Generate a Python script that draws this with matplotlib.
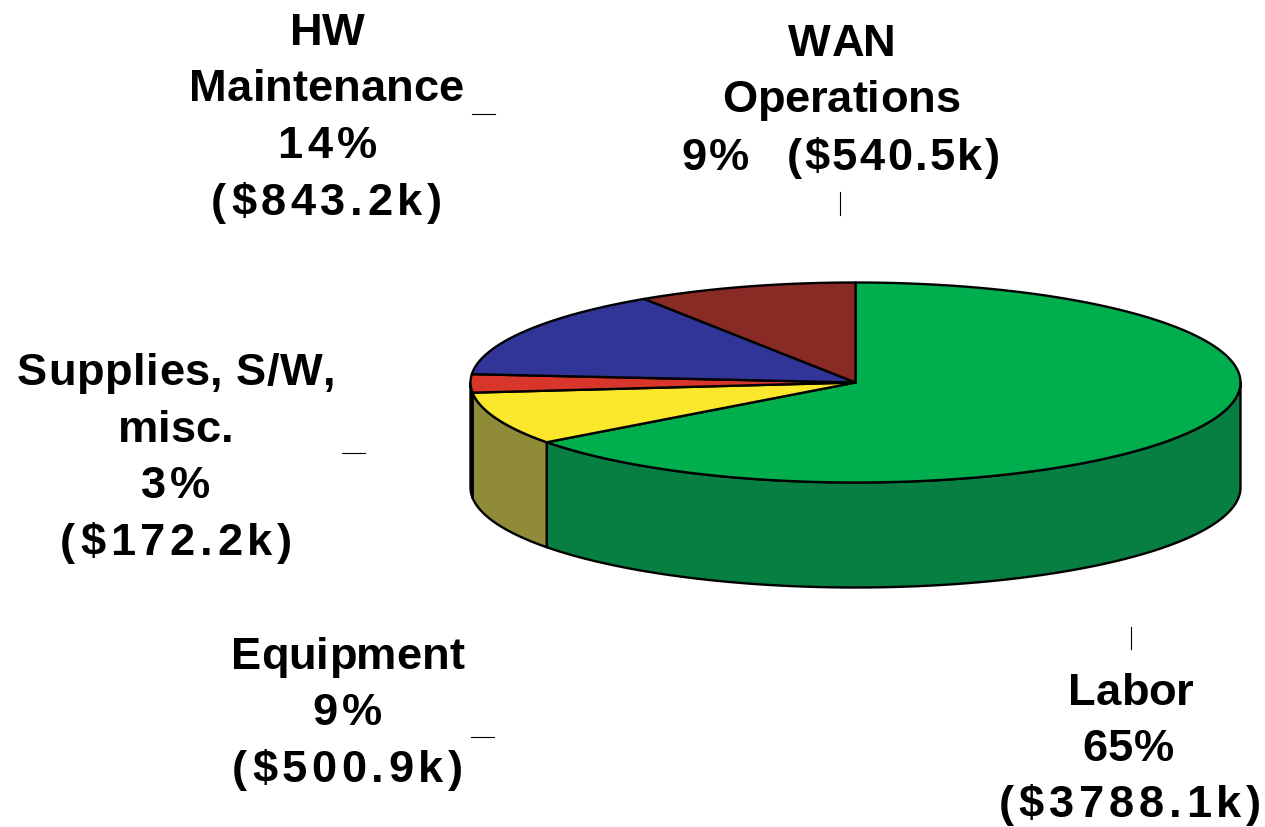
import numpy as np
import matplotlib
matplotlib.use("Agg")
import matplotlib.pyplot as plt
from matplotlib.patches import Polygon
from matplotlib.text import Text
from matplotlib.transforms import Bbox

categories = ["Labor", "Equipment", "Supplies, S/W, misc.", "HW Maintenance", "WAN Operations"]
values = [3788.1, 500.9, 172.2, 843.2, 540.5]
top_colors = ["#00AE4D", "#FBE72B", "#D9362B", "#303597", "#8A2A25"]
side_colors = ["#087F42", "#8F8B38", "#8F8B38", "#303597", "#8A2A25"]
label_lines = [
    ["Labor", "65%", "($3788.1k)"],
    ["Equipment", "9%", "($500.9k)"],
    ["Supplies, S/W,", "misc.", "3%", "($172.2k)"],
    ["HW", "Maintenance", "14%", "($843.2k)"],
    ["WAN", "Operations", "9%   ($540.5k)"],
]
label_x = [[1131, 1128, 1130], [347.5, 347.5, 347.5], [175, 175.5, 175.5, 176],
           [327.5, 326.5, 327, 326.5], [841.5, 841, 840.5]]
label_baselines = [[705, 761, 817], [669, 725, 782], [385, 442, 498, 555],
                   [45, 101, 158, 215], [56, 112, 170]]
label_gaps = [[0, 0.5, 4.9], [0, 4, 4.6], [0.6, 0, 4, 4.7], [0, 0, 4.5, 4.6], [1.2, 0, 2.4]]
ticks = [(1131, 627, 1131, 649), (471, 737, 494, 737), (342, 453, 365, 453),
         (472, 114, 495, 114), (840, 192, 840, 215)]

plt.rcParams['font.family'] = ['Liberation Sans', 'DejaVu Sans']
fig = plt.figure(figsize=(12.65, 8.27), dpi=100)
ax = fig.add_axes([0, 0, 1, 1])
ax.set_xlim(0, 1265)
ax.set_ylim(827, 0)
ax.axis("off")

cx, cy, rx, ry, depth = 855.5, 382.5, 385, 100, 105
fractions = np.array(values) / sum(values)
edges = np.concatenate([[0], np.cumsum(fractions)]) * 2 * np.pi
LW = 1.7


def pt(a, dy=0):
    # a is measured clockwise from the top of the ellipse
    return np.column_stack([cx + rx * np.sin(a), cy - ry * np.cos(a) + dy])


# side walls (only the front half, a in [pi/2, 3pi/2])
for i in range(len(values)):
    a0, a1 = max(edges[i], np.pi / 2), min(edges[i + 1], 3 * np.pi / 2)
    if a1 <= a0:
        continue
    a = np.linspace(a0, a1, 200)
    ax.add_patch(Polygon(np.vstack([pt(a), pt(a[::-1], depth)]), closed=True,
                         fc=side_colors[i], ec="black", lw=LW, joinstyle="round"))
# top faces
for i in range(len(values)):
    a = np.linspace(edges[i], edges[i + 1], 300)
    ax.add_patch(Polygon(np.vstack([[cx, cy], pt(a)]), closed=True,
                         fc=top_colors[i], ec="black", lw=LW, joinstyle="round"))

for x0, y0, x1, y1 in ticks:
    ax.plot([x0, x1], [y0, y1], color="black", lw=0.8)


class SpacedText(Text):
    """One text line with extra letter spacing (pixels), centred on x."""

    def __init__(self, x, y, s, gap, **kw):
        super().__init__(x, y, s, ha="center", va="baseline", **kw)
        self.gap = gap

    def _steps(self):
        s = self.get_text()
        return [self.gap if s[k] != " " and s[k + 1] != " " else 0 for k in range(len(s) - 1)]

    def _width(self, renderer, s):
        if not s:
            return 0.0
        return Text(0, 0, s, fontproperties=self.get_fontproperties(),
                    figure=self.get_figure()).get_window_extent(renderer).width

    def get_window_extent(self, renderer=None, dpi=None):
        renderer = renderer or self.get_figure().canvas.get_renderer()
        s = self.get_text()
        w = self._width(renderer, s.replace(" ", "\u00a0")) + sum(self._steps())
        px, py = self.get_transform().transform((self.get_position()))
        fs = self.get_fontsize() * 100 / 72
        return Bbox.from_extents(px - w / 2, py - 0.2 * fs, px + w / 2, py + 0.75 * fs)

    def draw(self, renderer):
        s = self.get_text()
        steps = self._steps()
        bbox = self.get_window_extent(renderer)
        px, py = self.get_transform().transform(self.get_position())
        inv = self.get_transform().inverted()
        for k, ch in enumerate(s):
            if ch == " ":
                continue
            off = self._width(renderer, s[:k].replace(" ", "\u00a0")) + sum(steps[:k])
            x, y = inv.transform((bbox.x0 + off, py))
            Text(x, y, ch, fontproperties=self.get_fontproperties(), color=self.get_color(),
                 ha="left", va="baseline", transform=self.get_transform(),
                 figure=self.get_figure()).draw(renderer)


for lines, xs, ys, gaps in zip(label_lines, label_x, label_baselines, label_gaps):
    for s, x, y, g in zip(lines, xs, ys, gaps):
        t = SpacedText(x, y, s, g, fontsize=32.6, fontweight="bold", color="black",
                       transform=ax.transData)
        ax.add_artist(t)

fig.savefig("out.png", dpi=100)
